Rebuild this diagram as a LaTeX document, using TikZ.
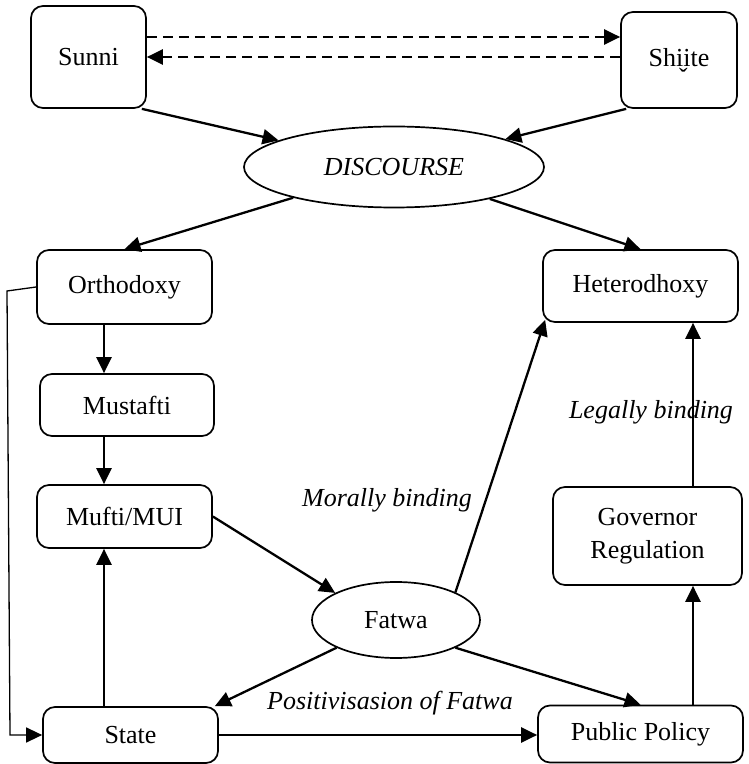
\documentclass[tikz,border=0pt]{standalone}
\usepackage{fontspec}
\setmainfont{Liberation Serif}
\usetikzlibrary{arrows.meta,shapes.geometric,calc}
\begin{document}
\begin{tikzpicture}[x=1pt,y=1pt,
  font=\fontsize{26}{33}\selectfont,
  box/.style={draw, line width=1.7pt, rounded corners=12pt, inner sep=0pt, align=center},
  oval/.style={draw, ellipse, line width=1.7pt, inner sep=0pt},
  arr/.style={line width=2.3pt, -{Triangle[length=16pt,width=15pt]}},
  darr/.style={arr, dash pattern=on 10pt off 6pt},
  thinarr/.style={line width=1.3pt, -{Triangle[length=16pt,width=15pt]}},
  lbl/.style={font=\fontsize{26}{33}\selectfont\itshape, inner sep=0pt}]
\useasboundingbox (0,0) rectangle (748,764);

\node[box, minimum width=115pt, minimum height=102pt] (sunni) at (88.5,707) {Sunni};
\node[box, minimum width=116pt, minimum height=96pt] (shiite) at (679,704) {Shi^^^^032cite};
\node[oval, minimum width=300pt, minimum height=81pt] (disc) at (394,597) {\itshape DISCOURSE};
\node[box, minimum width=175pt, minimum height=74pt] (orth) at (124.5,477) {Orthodoxy};
\node[box, minimum width=195pt, minimum height=72pt] (het) at (640.5,478) {Heterodhoxy};
\node[box, minimum width=174pt, minimum height=62pt] (must) at (127,359) {Mustafti};
\node[box, minimum width=175pt, minimum height=63pt] (mufti) at (124.5,247.5) {Mufti/MUI};
\node[oval, minimum width=168pt, minimum height=76pt] (fatwa) at (396,144) {Fatwa};
\node[box, minimum width=189pt, minimum height=98pt] (gov) at (647.5,228) {Governor\\Regulation};
\node[box, minimum width=175pt, minimum height=56pt] (state) at (130.5,29) {State};
\node[box, minimum width=205pt, minimum height=57pt] (pub) at (640.5,30) {Public Policy};

\node[lbl] (moral) at (387,264) {Morally binding};
\node[lbl] (legal) at (651,352) {Legally binding};
\node[lbl] (posit) at (390,61) {Positivisasion of Fatwa};

\coordinate (colx) at (104,0);
\coordinate (govx) at (693,0);
\coordinate (c1) at (7,473);
\coordinate (c2) at (10,29);

% dashed exchange
\draw[darr] ([yshift=20pt]sunni.east) -- ([yshift=20pt]sunni.east -| shiite.west);
\draw[darr] (shiite.west |- sunni.east) -- (sunni.east);

% to and from discourse
\draw[arr] ([xshift=-5pt]sunni.south east) -- (disc);
\draw[arr] ([xshift=6pt]shiite.south west) -- (disc);
\draw[arr] (disc) -- (orth.north);
\draw[arr] (disc) -- (het.north);

% left column
\draw[arr] (orth.south -| colx) -- (must.north -| colx);
\draw[arr] (must.south -| colx) -- (mufti.north -| colx);
\draw[arr] (state.north -| colx) -- (mufti.south -| colx);
\draw[thinarr] (orth.west) -- (c1) -- (c2) -- (state.west);

% fatwa
\draw[arr] (mufti.east) -- (fatwa.156);
\draw[arr] (fatwa.25) -- ([shift={(3pt,3pt)}]het.south west);
\draw[arr] (fatwa.205) -- ([xshift=-4pt]state.north east);
\draw[arr] (fatwa.335) -- (pub.north);
\draw[arr] (state.east) -- (state.east -| pub.west);

% right column
\draw[arr] (pub.north -| govx) -- (gov.south -| govx);
\draw[arr] (gov.north -| govx) -- (het.south -| govx);
\end{tikzpicture}
\end{document}
